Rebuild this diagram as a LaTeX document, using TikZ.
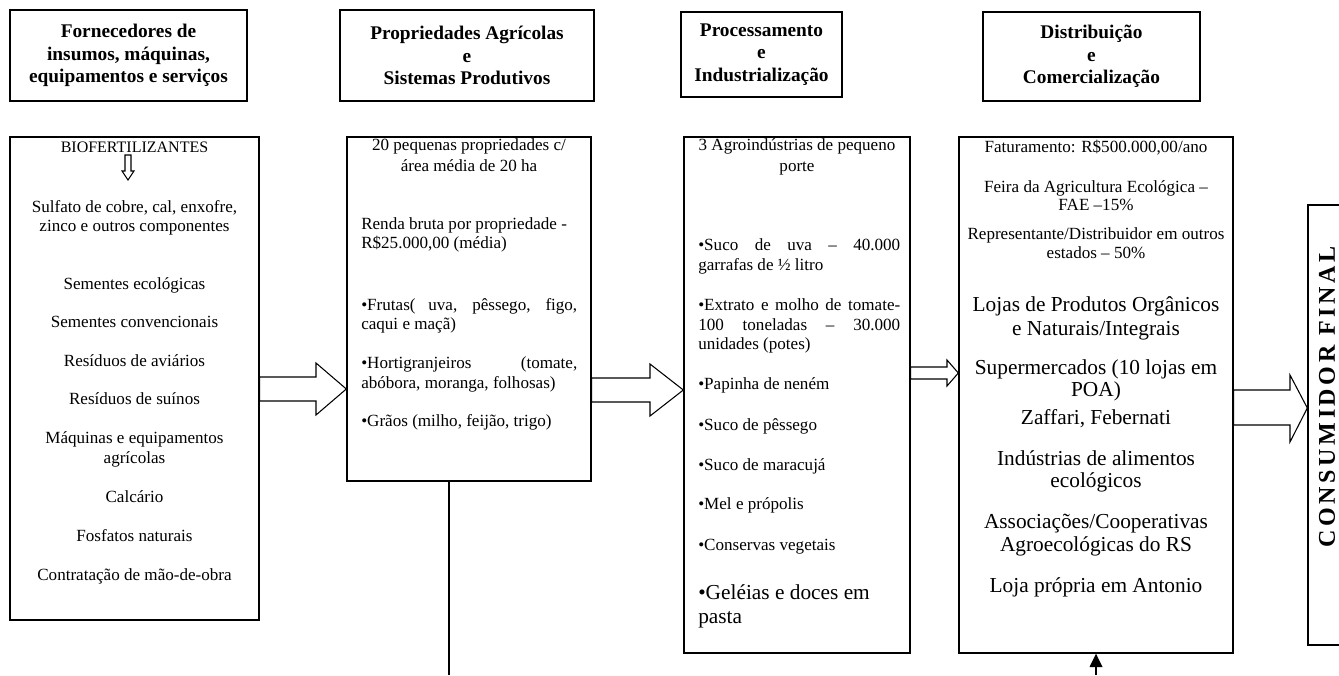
\documentclass[tikz,border=0pt]{standalone}
\usepackage{fontspec}
\setmainfont{Liberation Serif}
\newfontfamily\spacedbold[LetterSpace=15]{Liberation Serif}
\usetikzlibrary{fit,arrows.meta}
\begin{document}
\begin{tikzpicture}[x=0.75pt,y=-0.75pt,
  frame/.style={draw, line width=1pt, inner sep=0pt},
  hdr/.style={frame, align=center, font=\bfseries\fontsize{14.5}{16.7}\selectfont},
  htxt/.style={inner sep=0pt, align=center, font=\bfseries\fontsize{14.5}{16.7}\selectfont},
  t/.style={inner sep=0pt, anchor=base, font=\fontsize{12.8}{15}\selectfont},
  tl/.style={inner sep=0pt, anchor=base west, font=\fontsize{12.8}{15}\selectfont},
  big/.style={inner sep=0pt, anchor=base, font=\fontsize{16}{18.4}\selectfont},
  bigl/.style={inner sep=0pt, anchor=base west, font=\fontsize{16}{18.4}\selectfont},
  hollow/.style={draw, line width=0.8pt, fill=white, line join=miter},
  conn/.style={draw, line width=1pt}]
\useasboundingbox (0,0) rectangle (1339,675);

% headers
\node[hdr, fit={(10,10) (247,101)}] (h1) {};
\node[htxt] (h1t) at (h1.center) {Fornecedores de\\insumos, máquinas,\\equipamentos e serviços};
\node[hdr, fit={(340,10) (594,101)}] (h2) {};
\node[htxt] (h2t) at (h2.center) {Propriedades Agrícolas\\e\\Sistemas Produtivos};
\node[hdr, fit={(681,12) (842,97)}] (h3) {};
\node[htxt] (h3t) at (h3.center) {Processamento\\e\\Industrialização};
\node[hdr, fit={(983,12) (1200,101)}] (h4) {};
\node[htxt] (h4t) at (h4.center) {Distribuição\\e\\Comercialização};

% content boxes
\node[frame, fit={(10,137) (259,620)}] (b1) {};
\node[frame, fit={(347,137) (591,481)}] (b2) {};
\node[frame, fit={(684,137) (910,653)}] (b3) {};
\node[frame, fit={(959,137) (1233,653)}] (b4) {};
\node[frame, fit={(1308,205) (1346,645)}] (b5) {};

% box 1
\node[t, font=\fontsize{12}{14}\selectfont] (a1) at (134.5,152) {BIOFERTILIZANTES};
\draw[hollow] (125,155) -- (131,155) -- (131,171) -- (134,171) -- (128,180) -- (122,171) -- (125,171) -- cycle;
\node[t] (a2) at (134.5,212) {Sulfato de cobre, cal, enxofre,};
\node[t] (a3) at (134.5,231) {zinco e outros componentes};
\node[t] (a4) at (134.5,289) {Sementes ecológicas};
\node[t] (a5) at (134.5,327) {Sementes convencionais};
\node[t] (a6) at (134.5,366) {Resíduos de aviários};
\node[t] (a7) at (134.5,404) {Resíduos de suínos};
\node[t] (a8) at (134.5,443) {Máquinas e equipamentos};
\node[t] (a9) at (134.5,463) {agrícolas};
\node[t] (a10) at (134.5,502) {Calcário};
\node[t] (a11) at (134.5,541) {Fosfatos naturais};
\node[t] (a12) at (134.5,580) {Contratação de mão-de-obra};

% box 2
\node[t] (c1) at (469,150) {20 pequenas propriedades c/};
\node[t] (c2) at (469,171) {área média de 20 ha};
\node[tl] (c3) at (361,229) {Renda bruta por propriedade -};
\node[tl] (c4) at (361,248) {R\$25.000,00 (média)};
\node[tl] (c5) at (361,310) {\makebox[162pt][s]{•Frutas( uva, pêssego, figo,}};
\node[tl] (c6) at (361,329) {caqui e maçã)};
\node[tl] (c7) at (361,368) {\makebox[162pt][s]{•Hortigranjeiros (tomate,}};
\node[tl] (c8) at (361,388) {abóbora, moranga, folhosas)};
\node[tl] (c9) at (361,426) {•Grãos (milho, feijão, trigo)};

% box 3
\node[t] (d1) at (797,150) {3 Agroindústrias de pequeno};
\node[t] (d2) at (797,171) {porte};
\node[tl] (d3) at (698,250) {\makebox[151.5pt][s]{•Suco de uva – 40.000}};
\node[tl] (d4) at (698,270) {garrafas de ½ litro};
\node[tl] (d5) at (698,310) {\makebox[151.5pt][s]{•Extrato e molho de tomate-}};
\node[tl] (d6) at (698,330) {\makebox[151.5pt][s]{100 toneladas – 30.000}};
\node[tl] (d7) at (698,349) {unidades (potes)};
\node[tl] (d8) at (698,389) {•Papinha de neném};
\node[tl] (d9) at (698,430) {•Suco de pêssego};
\node[tl] (d10) at (698,470) {•Suco de maracujá};
\node[tl] (d11) at (698,509) {•Mel e própolis};
\node[tl] (d12) at (698,550) {•Conservas vegetais};
\node[bigl] (d13) at (698,599) {•Geléias e doces em};
\node[bigl] (d14) at (698,623) {pasta};

% box 4
\node[t] (e1) at (1096,152) {Faturamento: R\$500.000,00/ano};
\node[t] (e2) at (1096,192) {Feira da Agricultura Ecológica –};
\node[t] (e3) at (1096,210) {FAE –15\%};
\node[t] (e4) at (1096,239) {Representante/Distribuidor em outros};
\node[t] (e5) at (1096,258) {estados – 50\%};
\node[big] (e6) at (1096,311) {Lojas de Produtos Orgânicos};
\node[big] (e7) at (1096,335) {e Naturais/Integrais};
\node[big] (e8) at (1096,374) {Supermercados (10 lojas em};
\node[big] (e9) at (1096,396) {POA)};
\node[big] (e10) at (1096,424) {Zaffari, Febernati};
\node[big] (e11) at (1096,465) {Indústrias de alimentos};
\node[big] (e12) at (1096,487) {ecológicos};
\node[big] (e13) at (1096,528) {Associações/Cooperativas};
\node[big] (e14) at (1096,551) {Agroecológicas do RS};
\node[big] (e15) at (1096,592) {Loja própria em Antonio};

% consumer
\node[inner sep=0pt, rotate=90, font=\spacedbold\bfseries\fontsize{18}{20}\selectfont] (cf) at (1327,397) {CONSUMIDOR FINAL};

% block arrows
\draw[hollow] (b1.east |- 0,377) -- (316,377) -- (316,363) -- (b2.west |- 0,389) -- (316,415) -- (316,401) -- (b1.east |- 0,401) -- cycle;
\draw[hollow] (b2.east |- 0,378) -- (650,378) -- (650,364) -- (b3.west |- 0,390) -- (650,416) -- (650,402) -- (b2.east |- 0,402) -- cycle;
\draw[hollow] (b3.east |- 0,367) -- (947,367) -- (947,360) -- (b4.west |- 0,373) -- (947,386) -- (947,379) -- (b3.east |- 0,379) -- cycle;
\draw[hollow] (b4.east |- 0,390) -- (1290,390) -- (1290,375) -- (b5.west |- 0,408) -- (1290,442) -- (1290,425) -- (b4.east |- 0,425) -- cycle;

% bottom connectors
\coordinate (lb) at (449,675);
\draw[conn] (b2.south -| lb) -- (lb);
\coordinate (ub) at (1096,675);
\draw[conn, -{Triangle[length=10pt,width=9.5pt]}] (ub) -- (ub |- b4.south);
\end{tikzpicture}
\end{document}
